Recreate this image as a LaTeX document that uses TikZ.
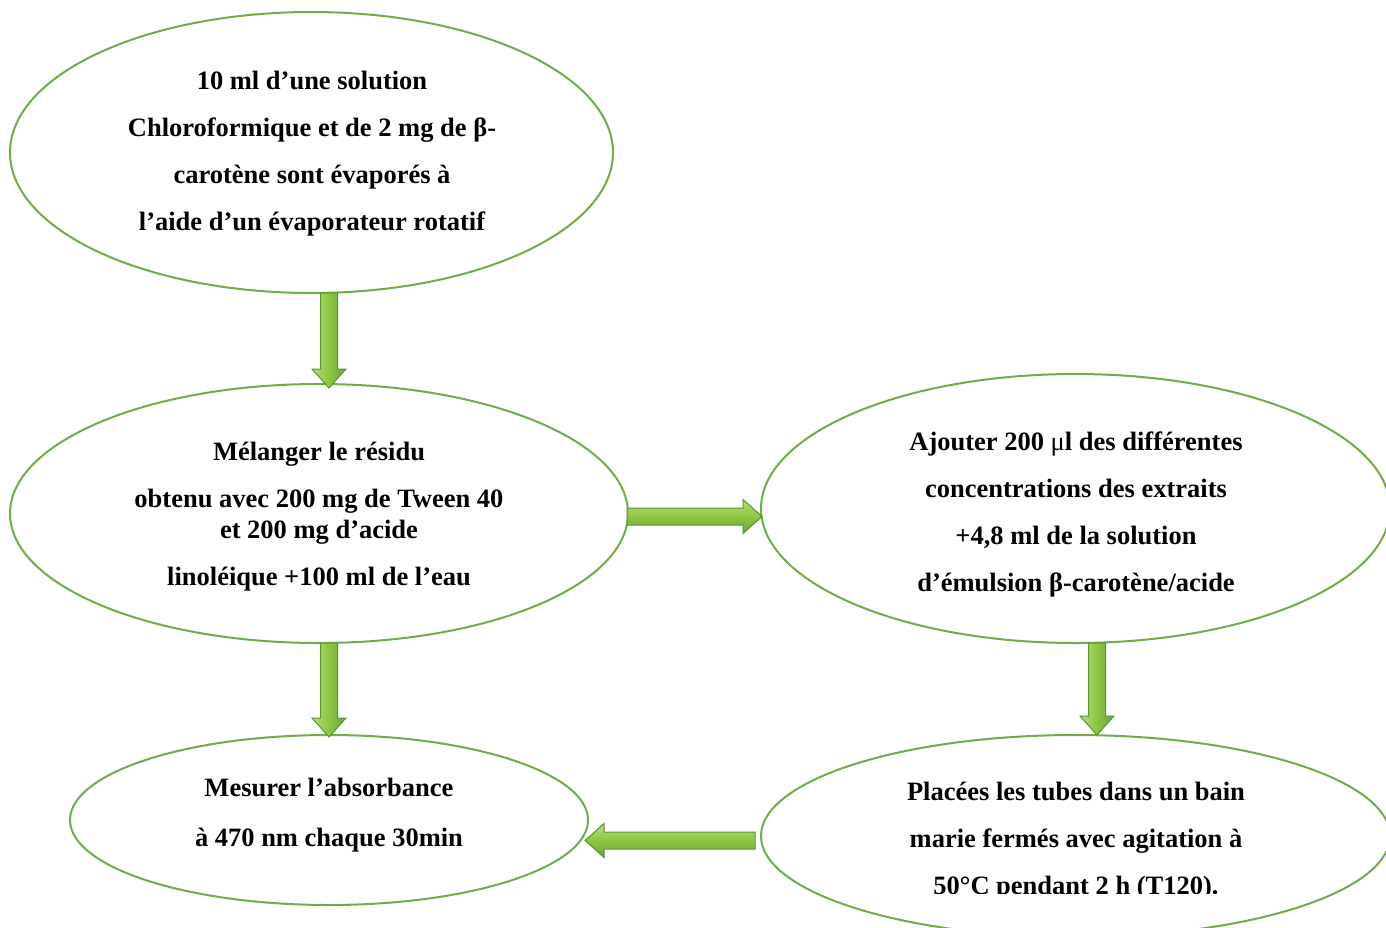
\documentclass[tikz,border=0pt]{standalone}
\usepackage{fontspec}
\setmainfont{Liberation Serif}
\usetikzlibrary{shapes.geometric,calc}
\definecolor{ellgreen}{HTML}{70AD47}
\definecolor{arlight}{HTML}{B5DE7E}
\definecolor{armid}{HTML}{8CC63F}
\definecolor{ardark}{HTML}{5C9431}
\tikzset{
  ell/.style={ellipse, draw=ellgreen, line width=2pt, inner sep=0pt, outer sep=0pt},
  txt/.style={align=center, inner sep=0pt, font=\fontsize{26.5}{47}\selectfont\bfseries},
  arrowv/.style={draw=ardark, line width=1pt, left color=arlight, right color=ardark!90, middle color=armid},
  arrowh/.style={draw=ardark, line width=1pt, top color=arlight, bottom color=ardark!90, middle color=armid},
}
\newcommand{\blockarrow}[3]{%
  \coordinate (bah) at ($(#3)!19pt!(#2)$);
  \path[#1] ($(#2)!8.5pt!90:(#3)$) -- ($(bah)!8.5pt!90:(#3)$) -- ($(bah)!17pt!90:(#3)$) -- (#3)
    -- ($(bah)!17pt!-90:(#3)$) -- ($(bah)!8.5pt!-90:(#3)$) -- ($(#2)!8.5pt!-90:(#3)$) -- cycle;
}
\begin{document}
\begin{tikzpicture}[x=1pt,y=-1pt]
\clip (0,0) rectangle (1386,927);
\fill[white] (0,0) rectangle (1386,927);
% ellipses
\node[ell, minimum width=603, minimum height=281] (e1) at (311.5,152.5) {};
\node[ell, minimum width=618, minimum height=259] (e2) at (319,513.5) {};
\node[ell, minimum width=629, minimum height=269] (e3) at (1075.5,508.5) {};
\node[ell, minimum width=518, minimum height=170] (e4) at (329,820) {};
\node[ell, minimum width=629, minimum height=202] (e5) at (1075.5,836) {};
% texts
\node[txt] (t1) at (312,154) {10 ml d’une solution\\Chloroformique et de 2 mg de β-\\carotène sont évaporés à\\l’aide d’un évaporateur rotatif};
\node[txt] (t2) at (319,516.5) {Mélanger le résidu\\obtenu avec 200 mg de Tween 40\\[-16pt]et 200 mg d’acide\\linoléique +100 ml de l’eau};
\node[txt] (t3) at (1076,514) {Ajouter 200 {\mdseries μ}l des différentes\\concentrations des extraits\\+4,8 ml de la solution\\d’émulsion β-carotène/acide};
\node[txt] (t4) at (329,815.5) {Mesurer l’absorbance\\[3pt]à 470 nm chaque 30min};
\begin{scope}
\clip (700,700) rectangle (1386,893);
\node[txt] (t5) at (1076,841) {Placées les tubes dans un bain\\marie fermés avec agitation à\\50°C pendant 2 h (T120).};
\end{scope}
% arrows
\blockarrow{arrowv}{$(e1.south)+(17.5,0)$}{$(e2.north)+(10,4)$}
\blockarrow{arrowv}{$(e2.south)+(10,0)$}{$(e4.north)+(0,2)$}
\blockarrow{arrowv}{$(e3.south)+(21.5,0)$}{$(e5.north)+(21.5,0)$}
\blockarrow{arrowh}{$(e2.east)+(-1,3)$}{$(e3.west)+(1,8)$}
\blockarrow{arrowh}{$(e5.west)+(-6,4.5)$}{$(e4.east)+(-3,20.5)$}
\end{tikzpicture}
\end{document}
